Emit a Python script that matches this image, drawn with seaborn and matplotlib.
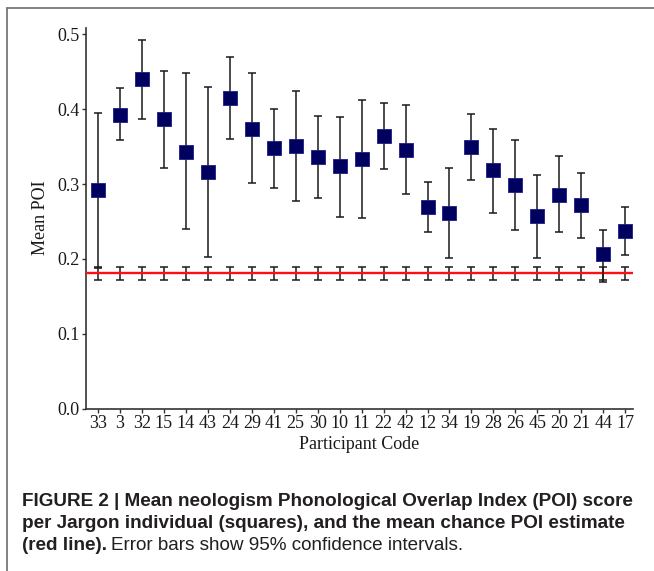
import numpy as np
import pandas as pd
import matplotlib
matplotlib.use("Agg")
import matplotlib.pyplot as plt
from matplotlib.lines import Line2D
import seaborn as sns

# participant codes in plotted order
codes = ["33", "3", "32", "15", "14", "43", "24", "29", "41", "25", "30", "10", "11",
         "22", "42", "12", "34", "19", "28", "26", "45", "20", "21", "44", "17"]

# mean neologism POI per participant and its 95% CI
poi_mean = [0.292, 0.393, 0.440, 0.387, 0.343, 0.316, 0.415, 0.374, 0.348, 0.351, 0.336, 0.324, 0.334,
            0.364, 0.346, 0.270, 0.261, 0.350, 0.319, 0.299, 0.257, 0.286, 0.272, 0.206, 0.237]
ci_low = [0.188, 0.359, 0.387, 0.322, 0.240, 0.202, 0.360, 0.301, 0.295, 0.277, 0.281, 0.256, 0.255,
          0.320, 0.287, 0.236, 0.201, 0.305, 0.262, 0.239, 0.201, 0.236, 0.228, 0.169, 0.205]
ci_high = [0.395, 0.428, 0.493, 0.451, 0.448, 0.430, 0.470, 0.449, 0.400, 0.425, 0.391, 0.390, 0.412,
           0.408, 0.406, 0.303, 0.322, 0.394, 0.374, 0.359, 0.312, 0.338, 0.315, 0.239, 0.269]

# chance POI estimate (same for every participant)
chance_mean = 0.181
chance_low = 0.172
chance_high = 0.189

sns.set_theme(style="ticks")
plt.rcParams["font.family"] = ["Liberation Serif", "DejaVu Serif"]

df = pd.DataFrame({"code": codes, "poi": poi_mean, "lo": ci_low, "hi": ci_high})
df["pos"] = np.arange(len(df))
n = len(df)

fig = plt.figure(figsize=(6.54, 5.71), dpi=100)
ax = fig.add_axes([0.1315, 0.2843, 0.8365, 0.6672])

# chance CIs, one per participant
ax.errorbar(df["pos"], [chance_mean] * n,
            yerr=[[chance_mean - chance_low] * n, [chance_high - chance_mean] * n],
            fmt="none", ecolor="#1a1a1a", elinewidth=1.1, capsize=2.6, capthick=1.1, zorder=2)
ax.axhline(chance_mean, color="#ff1010", lw=1.7, zorder=3)

# participant CIs
ax.errorbar(df["pos"], df["poi"], yerr=[df["poi"] - df["lo"], df["hi"] - df["poi"]],
            fmt="none", ecolor="#1a1a1a", elinewidth=1.1, capsize=2.6, capthick=1.1, zorder=4)
sns.scatterplot(data=df, x="pos", y="poi", marker="s", s=95, color="#00005f",
                edgecolor="#1c1c8a", linewidth=0.6, ax=ax, zorder=5)

ax.set_xlim(-0.55, 24.36)
ax.set_ylim(0, 0.509)
ax.set_xticks(df["pos"])
ax.set_xticklabels(codes)
ax.set_yticks([0.0, 0.1, 0.2, 0.3, 0.4, 0.5])
ax.set_yticklabels(["0.0", "0.1", "0.2", "0.3", "0.4", "0.5"])
ax.tick_params(axis="both", labelsize=13, length=3, width=1, color="#333333", pad=1.5,
               labelcolor="#1a1a1a")
for s in ["top", "right"]:
    ax.spines[s].set_visible(False)
for s in ["left", "bottom"]:
    ax.spines[s].set_color("#333333")
    ax.spines[s].set_linewidth(1.2)

ax.set_xlabel("Participant Code", fontsize=13, color="#1a1a1a", labelpad=3)
ax.set_ylabel("Mean POI", fontsize=13, color="#1a1a1a", labelpad=6)

# frame around the figure panel
fig.add_artist(Line2D([7 / 654, 7 / 654], [0, 1 - 8 / 571], color="#777777", lw=1.3))
fig.add_artist(Line2D([7 / 654, 1], [1 - 8 / 571, 1 - 8 / 571], color="#777777", lw=1.3))

# caption
cap_kw = dict(family=["Liberation Sans", "DejaVu Sans"], fontsize=13.6, color="#231f20", va="center")
x0 = 22 / 654
fig.text(x0, 1 - 501 / 571, "FIGURE 2 | Mean neologism Phonological Overlap Index (POI) score",
         fontweight="bold", **cap_kw)
fig.text(x0, 1 - 523 / 571, "per Jargon individual (squares), and the mean chance POI estimate",
         fontweight="bold", **cap_kw)
bold_part = fig.text(x0, 1 - 545 / 571, "(red line).", fontweight="bold", **cap_kw)
fig.canvas.draw()
bb = bold_part.get_window_extent()
fig.text((bb.x1 + 4) / fig.bbox.width, 1 - 545 / 571,
         "Error bars show 95% confidence intervals.", **cap_kw)

fig.savefig("out.png", dpi=100)
